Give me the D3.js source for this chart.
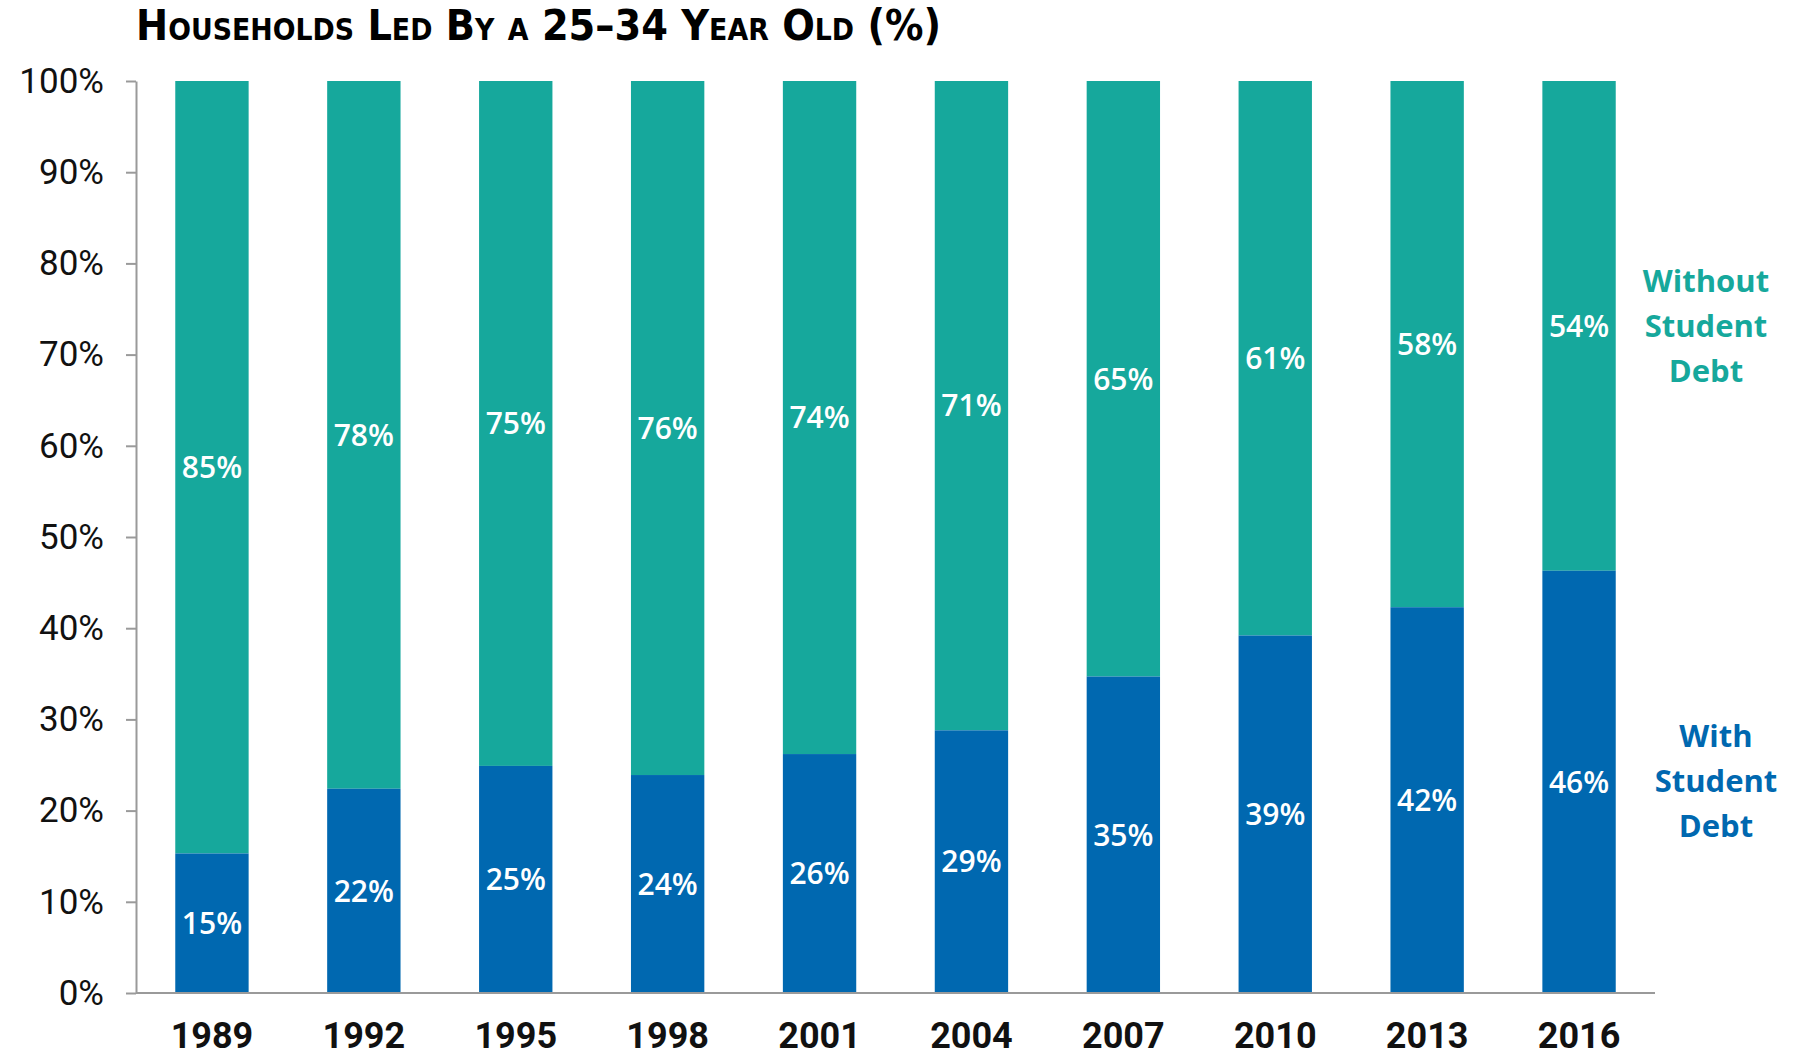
<!DOCTYPE html>
<html>
<head>
<meta charset="utf-8">
<script src="https://cdn.jsdelivr.net/npm/d3@7"></script>
<style>
  body { margin: 0; background: #fff; }
  svg { display: block; }
  .axis path, .axis line { stroke: #9a9a9a; stroke-width: 2; }
  .axis--y text { font-family: Roboto, sans-serif; font-size: 35px; fill: #111; }
  .axis--x text { font-family: Roboto, sans-serif; font-weight: 700; font-size: 36px; fill: #111; }
</style>
</head>
<body>
<svg width="1800" height="1057"></svg>
<script>
var years = ["1989", "1992", "1995", "1998", "2001", "2004", "2007", "2010", "2013", "2016"];
var withDebt = [15.3, 22.4, 24.9, 23.9, 26.2, 28.8, 34.7, 39.2, 42.3, 46.3];
var withLabels = ["15%", "22%", "25%", "24%", "26%", "29%", "35%", "39%", "42%", "46%"];
var withoutLabels = ["85%", "78%", "75%", "76%", "74%", "71%", "65%", "61%", "58%", "54%"];
var yTicks = [0, 10, 20, 30, 40, 50, 60, 70, 80, 90, 100];

var teal = "#16a89c",
    blue = "#0068b0";

var svg = d3.select("svg");

var x = d3.scaleBand()
    .domain(years)
    .range([136, 1655])
    .paddingInner(0.517)
    .paddingOuter(0.2585);

var y = d3.scaleLinear()
    .domain([0, 100])
    .range([993, 81]);

// title
svg.append("text")
    .attr("x", 136)
    .attr("y", 40)
    .attr("textLength", 805)
    .attr("lengthAdjust", "spacingAndGlyphs")
    .style("font-family", "'DejaVu Sans Condensed', 'DejaVu Sans', sans-serif")
    .style("font-weight", "700")
    .style("font-variant", "small-caps")
    .style("font-size", "43px")
    .style("fill", "#000")
    .text("Households Led By a 25\u201334 Year Old (%)");

var bar = svg.selectAll(".bar")
  .data(years)
  .enter().append("g")
    .attr("class", "bar");

// without student debt (top)
bar.append("rect")
    .attr("x", function(d) { return x(d); })
    .attr("width", x.bandwidth())
    .attr("y", y(100))
    .attr("height", function(d, i) { return y(withDebt[i]) - y(100); })
    .attr("fill", teal);

// with student debt (bottom)
bar.append("rect")
    .attr("x", function(d) { return x(d); })
    .attr("width", x.bandwidth())
    .attr("y", function(d, i) { return y(withDebt[i]); })
    .attr("height", function(d, i) { return y(0) - y(withDebt[i]); })
    .attr("fill", blue);

bar.append("text")
    .attr("x", function(d) { return x(d) + x.bandwidth() / 2; })
    .attr("y", function(d, i) { return (y(withDebt[i]) + y(0)) / 2; })
    .attr("dy", "0.36em")
    .attr("text-anchor", "middle")
    .style("font-family", "'Open Sans', sans-serif")
    .style("font-weight", "600")
    .style("font-size", "30px")
    .style("fill", "#fff")
    .text(function(d, i) { return withLabels[i]; });

bar.append("text")
    .attr("x", function(d) { return x(d) + x.bandwidth() / 2; })
    .attr("y", function(d, i) { return (y(withDebt[i]) + y(100)) / 2; })
    .attr("dy", "0.36em")
    .attr("text-anchor", "middle")
    .style("font-family", "'Open Sans', sans-serif")
    .style("font-weight", "600")
    .style("font-size", "30px")
    .style("fill", "#fff")
    .text(function(d, i) { return withoutLabels[i]; });

svg.append("g")
    .attr("class", "axis axis--y")
    .attr("transform", "translate(136,0)")
    .call(d3.axisLeft(y).tickValues(yTicks).tickSize(10).tickSizeOuter(0).tickPadding(22)
      .tickFormat(function(d) { return d + "%"; }));

svg.append("g")
    .attr("class", "axis axis--x")
    .attr("transform", "translate(0," + y(0) + ")")
    .call(d3.axisBottom(x).tickSize(0).tickSizeOuter(0).tickPadding(29));

svg.selectAll(".axis--x .domain").attr("d", "M136,0H1655");

// series labels
function seriesLabel(lines, cx, cy, color) {
  var t = svg.append("text")
      .attr("text-anchor", "middle")
      .style("font-family", "'Open Sans', sans-serif")
      .style("font-weight", "700")
      .style("font-size", "31px")
      .style("fill", color);
  lines.forEach(function(l, i) {
    t.append("tspan").attr("x", cx).attr("y", cy + i * 45).attr("dy", "0.36em").text(l);
  });
}
seriesLabel(["Without", "Student", "Debt"], 1706, 281, teal);
seriesLabel(["With", "Student", "Debt"], 1716, 736, blue);
</script>
</body>
</html>
